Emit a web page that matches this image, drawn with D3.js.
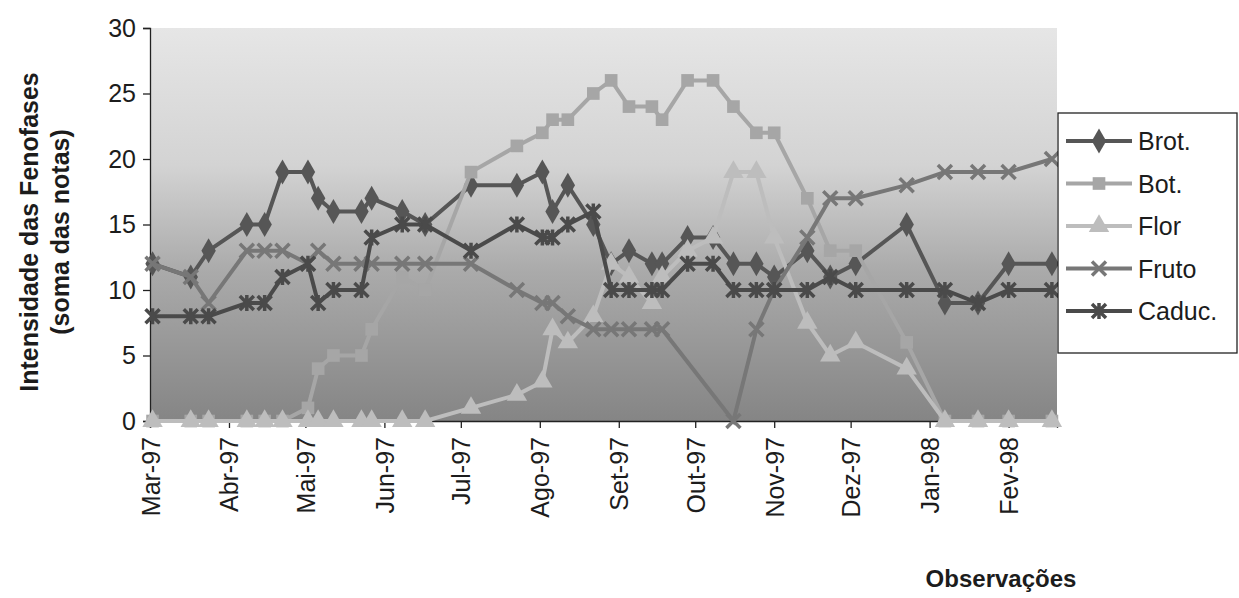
<!DOCTYPE html>
<html>
<head>
<meta charset="utf-8">
<script src="https://cdn.jsdelivr.net/npm/d3@7/dist/d3.min.js"></script>
<style>
body{margin:0;background:#fff;}
text{font-family:"Liberation Sans",Arial,sans-serif;fill:#1c1c1c;}
</style>
</head>
<body>
<script>
//wrap everything in a self-executing anonymous function
(function(){

//observation dates
var dates = ["1997-03-02","1997-03-17","1997-03-24","1997-04-08","1997-04-15","1997-04-22",
    "1997-05-02","1997-05-06","1997-05-12","1997-05-23","1997-05-27","1997-06-08","1997-06-17",
    "1997-07-05","1997-07-23","1997-08-02","1997-08-06","1997-08-12","1997-08-22","1997-08-29",
    "1997-09-05","1997-09-14","1997-09-18","1997-09-28","1997-10-08","1997-10-16","1997-10-25",
    "1997-11-01","1997-11-14","1997-11-23","1997-12-03","1997-12-23","1998-01-07","1998-01-20",
    "1998-02-01","1998-02-18"];

//series values (soma das notas)
var brot  = [12,11,13,15,15,19,19,17,16,16,17,16,15,18,18,19,16,18,15,12,13,12,12,14,14,12,12,11,13,11,12,15,9,9,12,12];
var bot   = [0,0,0,0,0,0,1,4,5,5,7,11,10,19,21,22,23,23,25,26,24,24,23,26,26,24,22,22,17,13,13,6,0,0,0,0];
var flor  = [0,0,0,0,0,0,0,0,0,0,0,0,0,1,2,3,7,6,8,12,11,9,11,13,14,19,19,14,7.5,5,6,4,0,0,0,0];
var fruto = [12,11,9,13,13,13,12,13,12,12,12,12,12,12,10,9,9,8,7,7,7,7,7,null,null,0,7,10,14,17,17,18,19,19,19,20];
var caduc = [8,8,8,9,9,11,12,9,10,10,14,15,15,13,15,14,14,15,16,10,10,10,10,12,12,10,10,10,10,11,10,10,10,9,10,10];

var seriesNames = ["Brot.","Bot.","Flor","Fruto","Caduc."];
var monthNames = ["Jan","Fev","Mar","Abr","Mai","Jun","Jul","Ago","Set","Out","Nov","Dez"];
var yTicks = [0,5,10,15,20,25,30];

drawChart();

function drawChart(){
    var width = 1239,
        height = 598;
    var left = 150, right = 1057, top = 28, bottom = 421;

    var svg = d3.select("body")
        .append("svg")
        .attr("width", width)
        .attr("height", height);

    var parse = d3.utcParse("%Y-%m-%d");
    var x = d3.scaleUtc()
        .domain([parse("1997-03-01"), parse("1998-02-20")])
        .range([left, right]);
    var y = d3.scaleLinear()
        .domain([0, 30])
        .range([bottom, top]);

    //plot area gradient
    var grad = svg.append("defs").append("linearGradient")
        .attr("id", "bg")
        .attr("x1", 0).attr("y1", 0).attr("x2", 0).attr("y2", 1);
    [["0%","#e6e6e6"],["35%","#d3d3d3"],["62%","#aaaaaa"],["100%","#858585"]].forEach(function(s){
        grad.append("stop").attr("offset", s[0]).attr("stop-color", s[1]);
    });
    svg.append("rect")
        .attr("x", left).attr("y", top)
        .attr("width", right - left).attr("height", bottom - top)
        .attr("fill", "url(#bg)");

    //axes
    var yAxis = svg.append("g")
        .attr("transform", "translate(" + left + ",0)")
        .call(d3.axisLeft(y).tickValues(yTicks).tickSize(7).tickPadding(7));
    yAxis.selectAll("text").style("font-size", "25px");

    var xAxis = svg.append("g")
        .attr("transform", "translate(0," + bottom + ")")
        .call(d3.axisBottom(x)
            .ticks(d3.utcMonth.every(1))
            .tickSize(7)
            .tickFormat(function(d){
                return monthNames[d.getUTCMonth()] + "-" + String(d.getUTCFullYear()).slice(2);
            }));
    xAxis.selectAll("text")
        .style("font-size", "25px")
        .style("text-anchor", "end")
        .attr("transform", "rotate(-90)")
        .attr("x", -16)
        .attr("y", 0)
        .attr("dy", "0.36em");
    svg.selectAll(".domain, .tick line").attr("stroke", "#222").attr("stroke-width", 1.3);

    //axis titles
    var yTitle = svg.append("text")
        .attr("transform", "translate(38,232) rotate(-90)")
        .attr("text-anchor", "middle")
        .style("font-size", "25px")
        .style("font-weight", "bold");
    yTitle.append("tspan").attr("x", 0).attr("dy", 0).text("Intensidade das Fenofases");
    yTitle.append("tspan").attr("x", 0).attr("dy", 31).text("(soma das notas)");

    svg.append("text")
        .attr("x", 1001).attr("y", 587)
        .attr("text-anchor", "middle")
        .style("font-size", "24px")
        .style("font-weight", "bold")
        .text("Observações");

    //series definitions
    var series = [
        {name: seriesNames[0], values: brot,  color: "#565656", shape: "diamond"},
        {name: seriesNames[1], values: bot,   color: "#a6a6a6", shape: "square"},
        {name: seriesNames[2], values: flor,  color: "#bdbdbd", shape: "triangle"},
        {name: seriesNames[3], values: fruto, color: "#777777", shape: "cross"},
        {name: seriesNames[4], values: caduc, color: "#4a4a4a", shape: "star"}
    ];

    var line = d3.line()
        .x(function(d){ return x(d.date); })
        .y(function(d){ return y(d.value); });

    series.forEach(function(s){
        var pts = [];
        s.values.forEach(function(v, i){
            if (v !== null) pts.push({date: parse(dates[i]), value: v});
        });
        var g = svg.append("g");
        g.append("path")
            .datum(pts)
            .attr("fill", "none")
            .attr("stroke", s.color)
            .attr("stroke-width", 4)
            .attr("d", line);
        g.selectAll(".mk")
            .data(pts)
            .enter()
            .append("g")
            .attr("transform", function(d){ return "translate(" + x(d.date) + "," + y(d.value) + ")"; })
            .each(function(){ addMarker(d3.select(this), s.shape, s.color); });
    });

    //legend
    var lg = svg.append("g");
    lg.append("rect")
        .attr("x", 1058).attr("y", 113)
        .attr("width", 179).attr("height", 240)
        .attr("fill", "#fff")
        .attr("stroke", "#222")
        .attr("stroke-width", 1.3);
    series.forEach(function(s, i){
        var ly = 141 + i * 42.5;
        lg.append("line")
            .attr("x1", 1066).attr("x2", 1132)
            .attr("y1", ly).attr("y2", ly)
            .attr("stroke", s.color).attr("stroke-width", 4);
        addMarker(lg.append("g").attr("transform", "translate(1099," + ly + ")"), s.shape, s.color);
        lg.append("text")
            .attr("x", 1138).attr("y", ly)
            .attr("dy", "0.36em")
            .style("font-size", "25px")
            .text(s.name);
    });
}

//draw one marker shape into a group
function addMarker(g, shape, color){
    if (shape == "diamond"){
        g.append("path").attr("d", d3.symbol().type(d3.symbolDiamond).size(180)()).attr("fill", color);
    } else if (shape == "square"){
        g.append("path").attr("d", d3.symbol().type(d3.symbolSquare).size(160)()).attr("fill", color);
    } else if (shape == "triangle"){
        g.append("path").attr("d", d3.symbol().type(d3.symbolTriangle).size(180)()).attr("fill", color);
    } else if (shape == "cross"){
        g.append("path").attr("d", "M-7,-7L7,7M-7,7L7,-7")
            .attr("stroke", color).attr("stroke-width", 3.5).attr("fill", "none");
    } else {
        g.append("path").attr("d", "M-7,-7L7,7M-7,7L7,-7M0,-8L0,8")
            .attr("stroke", color).attr("stroke-width", 3.5).attr("fill", "none");
    }
}

})();
</script>
</body>
</html>
